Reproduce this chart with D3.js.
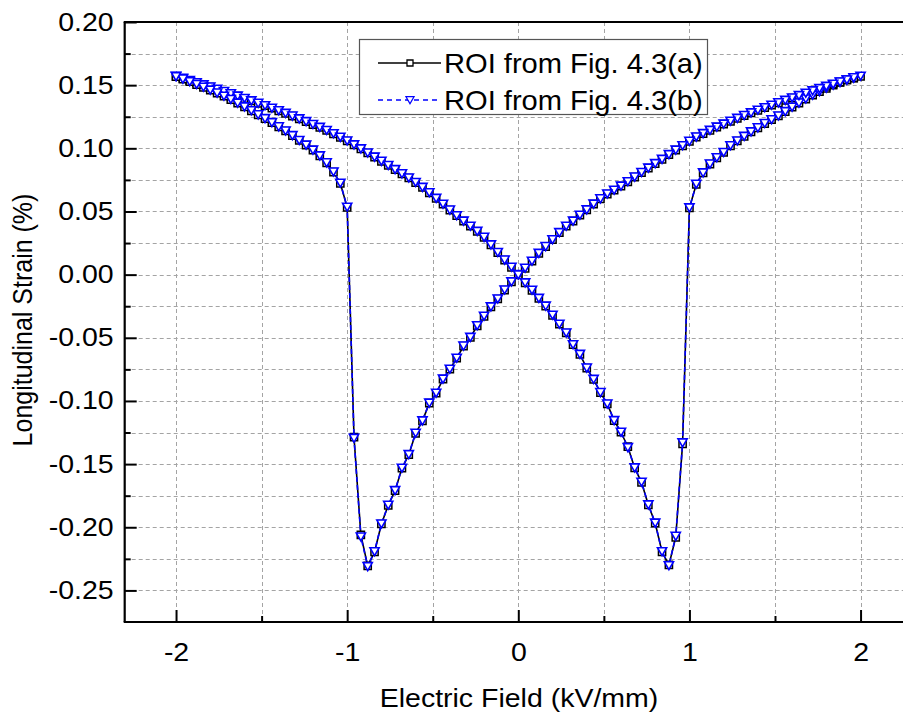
<!DOCTYPE html>
<html>
<head>
<meta charset="utf-8">
<script src="https://cdn.jsdelivr.net/npm/d3@7"></script>
<style>
  html, body { margin: 0; padding: 0; background: #fff; }
  svg { display: block; }
</style>
</head>
<body>
<svg id="chart" width="903" height="713"></svg>
<script>
// ---------------- DATA ----------------
// Electric field (kV/mm), loop: -2 -> +2 -> -2
const fieldValues = [
  -2,-1.96,-1.92,-1.88,-1.84,-1.8,-1.76,-1.72,-1.68,-1.64,
  -1.6,-1.56,-1.52,-1.48,-1.44,-1.4,-1.36,-1.32,-1.28,-1.24,
  -1.2,-1.16,-1.12,-1.08,-1.04,-1,-0.96,-0.92,-0.88,-0.84,
  -0.8,-0.76,-0.72,-0.68,-0.64,-0.6,-0.56,-0.52,-0.48,-0.44,
  -0.4,-0.36,-0.32,-0.28,-0.24,-0.2,-0.16,-0.12,-0.08,-0.04,
  0,0.04,0.08,0.12,0.16,0.2,0.24,0.28,0.32,0.36,
  0.4,0.44,0.48,0.52,0.56,0.6,0.64,0.68,0.72,0.76,
  0.8,0.84,0.88,0.92,0.96,1,1.04,1.08,1.12,1.16,
  1.2,1.24,1.28,1.32,1.36,1.4,1.44,1.48,1.52,1.56,
  1.6,1.64,1.68,1.72,1.76,1.8,1.84,1.88,1.92,1.96,
  2,
  1.96,1.92,1.88,1.84,1.8,1.76,1.72,1.68,1.64,1.6,
  1.56,1.52,1.48,1.44,1.4,1.36,1.32,1.28,1.24,1.2,
  1.16,1.12,1.08,1.04,1,0.96,0.92,0.88,0.84,0.8,
  0.76,0.72,0.68,0.64,0.6,0.56,0.52,0.48,0.44,0.4,
  0.36,0.32,0.28,0.24,0.2,0.16,0.12,0.08,0.04,0,
  -0.04,-0.08,-0.12,-0.16,-0.2,-0.24,-0.28,-0.32,-0.36,-0.4,
  -0.44,-0.48,-0.52,-0.56,-0.6,-0.64,-0.68,-0.72,-0.76,-0.8,
  -0.84,-0.88,-0.92,-0.96,-1,-1.04,-1.08,-1.12,-1.16,-1.2,
  -1.24,-1.28,-1.32,-1.36,-1.4,-1.44,-1.48,-1.52,-1.56,-1.6,
  -1.64,-1.68,-1.72,-1.76,-1.8,-1.84,-1.88,-1.92,-1.96,-2
];

// Longitudinal strain (%) - ROI from Fig. 4.3(a)
const strainA = [
  0.1570,0.1553,0.1536,0.1519,0.1502,0.1485,0.1467,0.1449,0.1431,0.1413,
  0.1394,0.1375,0.1356,0.1337,0.1317,0.1297,0.1276,0.1255,0.1233,0.1211,
  0.1188,0.1165,0.1141,0.1115,0.1087,0.1058,0.1027,0.0995,0.0963,0.0930,
  0.0897,0.0864,0.0831,0.0798,0.0765,0.0729,0.0690,0.0648,0.0603,0.0557,
  0.0511,0.0466,0.0423,0.0383,0.0342,0.0295,0.0235,0.0175,0.0115,0.0058,
  0.0000,-0.0066,-0.0124,-0.0188,-0.0250,-0.0322,-0.0393,-0.0462,-0.0555,-0.0632,
  -0.0740,-0.0830,-0.0934,-0.1024,-0.1156,-0.1248,-0.1362,-0.1530,-0.1644,-0.1823,
  -0.1968,-0.2195,-0.2298,-0.2080,-0.1340,0.0528,0.0715,0.0805,0.0875,0.0925,
  0.0967,0.1020,0.1058,0.1094,0.1130,0.1162,0.1196,0.1226,0.1256,0.1290,
  0.1325,0.1358,0.1390,0.1420,0.1448,0.1475,0.1500,0.1522,0.1541,0.1556,
  0.1570,
  0.1558,0.1541,0.1524,0.1507,0.1490,0.1472,0.1454,0.1436,0.1417,0.1398,
  0.1379,0.1360,0.1341,0.1321,0.1301,0.1280,0.1259,0.1237,0.1214,0.1191,
  0.1167,0.1142,0.1116,0.1089,0.1055,0.1020,0.0985,0.0950,0.0912,0.0878,
  0.0843,0.0808,0.0772,0.0735,0.0700,0.0668,0.0638,0.0600,0.0558,0.0512,
  0.0470,0.0423,0.0383,0.0332,0.0276,0.0222,0.0168,0.0106,0.0050,-0.0003,
  -0.0058,-0.0122,-0.0193,-0.0256,-0.0330,-0.0405,-0.0497,-0.0566,-0.0662,-0.0749,
  -0.0828,-0.0939,-0.1018,-0.1158,-0.1256,-0.1425,-0.1533,-0.1710,-0.1826,-0.1974,
  -0.2195,-0.2306,-0.2060,-0.1287,0.0533,0.0723,0.0812,0.0885,0.0940,0.0985,
  0.1025,0.1062,0.1100,0.1137,0.1170,0.1203,0.1235,0.1265,0.1297,0.1328,
  0.1357,0.1386,0.1412,0.1437,0.1460,0.1483,0.1505,0.1527,0.1548,0.1567
];

// Longitudinal strain (%) - ROI from Fig. 4.3(b)
const strainB = [
  0.1572,0.1556,0.1538,0.1521,0.1504,0.1487,0.1469,0.1451,0.1433,0.1415,
  0.1396,0.1377,0.1358,0.1339,0.1319,0.1299,0.1278,0.1257,0.1235,0.1213,
  0.1190,0.1167,0.1143,0.1117,0.1089,0.1060,0.1029,0.0997,0.0965,0.0932,
  0.0899,0.0866,0.0833,0.0800,0.0767,0.0731,0.0692,0.0650,0.0605,0.0559,
  0.0513,0.0468,0.0425,0.0385,0.0344,0.0297,0.0237,0.0177,0.0117,0.0060,
  0.0002,-0.0064,-0.0122,-0.0186,-0.0248,-0.0320,-0.0391,-0.0460,-0.0553,-0.0630,
  -0.0738,-0.0828,-0.0932,-0.1022,-0.1154,-0.1246,-0.1368,-0.1528,-0.1642,-0.1821,
  -0.1966,-0.2192,-0.2303,-0.2070,-0.1330,0.0530,0.0717,0.0807,0.0877,0.0927,
  0.0969,0.1022,0.1060,0.1096,0.1132,0.1164,0.1198,0.1228,0.1258,0.1292,
  0.1327,0.1360,0.1392,0.1422,0.1450,0.1477,0.1502,0.1524,0.1543,0.1558,
  0.1572,
  0.1560,0.1543,0.1526,0.1509,0.1492,0.1474,0.1456,0.1438,0.1419,0.1400,
  0.1381,0.1362,0.1343,0.1323,0.1303,0.1282,0.1261,0.1239,0.1216,0.1193,
  0.1169,0.1144,0.1118,0.1091,0.1057,0.1022,0.0987,0.0952,0.0914,0.0880,
  0.0845,0.0810,0.0774,0.0737,0.0702,0.0670,0.0640,0.0602,0.0560,0.0514,
  0.0472,0.0425,0.0385,0.0334,0.0278,0.0224,0.0170,0.0108,0.0052,-0.0001,
  -0.0056,-0.0120,-0.0191,-0.0254,-0.0328,-0.0403,-0.0495,-0.0564,-0.0660,-0.0747,
  -0.0826,-0.0937,-0.1016,-0.1156,-0.1254,-0.1423,-0.1531,-0.1708,-0.1824,-0.1972,
  -0.2192,-0.2310,-0.2075,-0.1295,0.0535,0.0725,0.0814,0.0887,0.0942,0.0987,
  0.1027,0.1064,0.1102,0.1139,0.1172,0.1205,0.1237,0.1267,0.1299,0.1330,
  0.1359,0.1388,0.1414,0.1439,0.1462,0.1485,0.1507,0.1529,0.1550,0.1569
];

const seriesNames = ["ROI from Fig. 4.3(a)", "ROI from Fig. 4.3(b)"];
const xTickValues = [-2, -1, 0, 1, 2];
const xMinorTickValues = [-1.5, -0.5, 0.5, 1.5];
const yTickValues = [0.20, 0.15, 0.10, 0.05, 0.00, -0.05, -0.10, -0.15, -0.20, -0.25];
const yMinorTickValues = [0.175, 0.125, 0.075, 0.025, -0.025, -0.075, -0.125, -0.175, -0.225];
const xTitle = "Electric Field (kV/mm)";
const yTitle = "Longitudinal Strain (%)";

// ---------------- LAYOUT ----------------
const W = 903, H = 713;
const plotLeft = 124.7, plotTop = 22, plotBottom = 622;
const FONT = '"Liberation Sans", Arial, Helvetica, sans-serif';
const SX = 1.14; // horizontal stretch of the text in the reference

const svg = d3.select("#chart");
svg.append("rect").attr("width", W).attr("height", H).attr("fill", "#fff");

const x = d3.scaleLinear().domain([-2.3, 2.3]).range([plotLeft, 911.9]);
const y = d3.scaleLinear().domain([-0.275, 0.2]).range([plotBottom, plotTop]);

// ---------------- GRID ----------------
const grid = svg.append("g")
  .attr("stroke", "#a4a4a4").attr("stroke-width", 1).attr("stroke-dasharray", "4,3").attr("fill", "none");
grid.selectAll("line.h")
  .data(yTickValues.concat(yMinorTickValues).filter(v => v < 0.2))
  .join("line").attr("class", "h")
  .attr("x1", plotLeft).attr("x2", W)
  .attr("y1", d => Math.round(y(d)) + 0.5).attr("y2", d => Math.round(y(d)) + 0.5);
grid.selectAll("line.v")
  .data(xTickValues.concat(xMinorTickValues))
  .join("line").attr("class", "v")
  .attr("y1", plotTop).attr("y2", plotBottom)
  .attr("x1", d => Math.round(x(d)) + 0.5).attr("x2", d => Math.round(x(d)) + 0.5);

// ---------------- AXES ----------------
const yAxis = d3.axisLeft(y).tickValues(yTickValues).tickSizeInner(-12).tickSizeOuter(0)
  .tickPadding(11).tickFormat(d => d.toFixed(2));
const gy = svg.append("g").attr("transform", `translate(${plotLeft},0)`).call(yAxis);
gy.select(".domain").remove();
gy.selectAll(".tick line").attr("stroke", "#000").attr("stroke-width", 2);
gy.selectAll(".tick text")
  .attr("font-family", FONT).attr("font-size", 25).attr("fill", "#000")
  .attr("x", -11 / SX).attr("transform", `scale(${SX},1)`);

const yMinor = d3.axisLeft(y).tickValues(yMinorTickValues).tickSizeInner(-6).tickSizeOuter(0).tickFormat("");
const gym = svg.append("g").attr("transform", `translate(${plotLeft},0)`).call(yMinor);
gym.select(".domain").remove();
gym.selectAll(".tick line").attr("stroke", "#000").attr("stroke-width", 2);

const xAxis = d3.axisBottom(x).tickValues(xTickValues).tickSizeInner(-12).tickSizeOuter(0)
  .tickPadding(21).tickFormat(d => String(d));
const gx = svg.append("g").attr("transform", `translate(0,${plotBottom})`).call(xAxis);
gx.select(".domain").remove();
gx.selectAll(".tick line").attr("stroke", "#000").attr("stroke-width", 2);
gx.selectAll(".tick text")
  .attr("font-family", FONT).attr("font-size", 25).attr("fill", "#000")
  .attr("transform", `scale(${SX},1)`);

const xMinor = d3.axisBottom(x).tickValues(xMinorTickValues).tickSizeInner(-6).tickSizeOuter(0).tickFormat("");
const gxm = svg.append("g").attr("transform", `translate(0,${plotBottom})`).call(xMinor);
gxm.select(".domain").remove();
gxm.selectAll(".tick line").attr("stroke", "#000").attr("stroke-width", 2);

// frame (top, left, bottom)
const frame = svg.append("g").attr("stroke", "#000").attr("stroke-width", 2.2).attr("fill", "none");
frame.append("line").attr("x1", plotLeft - 1).attr("x2", W).attr("y1", plotTop).attr("y2", plotTop);
frame.append("line").attr("x1", plotLeft).attr("x2", plotLeft).attr("y1", plotTop).attr("y2", plotBottom);
frame.append("line").attr("x1", plotLeft - 1).attr("x2", W).attr("y1", plotBottom).attr("y2", plotBottom);

// ---------------- TITLES ----------------
function stretchedText(px, py, txt, size, anchor, rotate) {
  const g = svg.append("g")
    .attr("transform", `translate(${px},${py}) scale(${SX},1)` + (rotate ? ` rotate(${rotate})` : ""));
  g.append("text").attr("text-anchor", anchor).attr("font-family", FONT)
    .attr("font-size", size).attr("fill", "#000").text(txt);
  return g;
}
stretchedText(519, 707, xTitle, 25, "middle", 0);
stretchedText(32, 320, yTitle, 25, "middle", -90);

// ---------------- SERIES ----------------
const idx = d3.range(fieldValues.length);
const ptsA = idx.map(i => [fieldValues[i], strainA[i]]);
const ptsB = idx.map(i => [fieldValues[i], strainB[i]]);
const line = d3.line().x(d => x(d[0])).y(d => y(d[1]));

const squarePath = "M-3.6,-3.6H3.6V3.6H-3.6Z";
const triPath = "M-4.6,-3.8L4.6,-3.8L0,4.2Z";

svg.append("path").datum(ptsA).attr("d", line)
  .attr("fill", "none").attr("stroke", "#000").attr("stroke-width", 1.6);
svg.append("g").selectAll("path").data(ptsA).join("path")
  .attr("d", squarePath)
  .attr("transform", d => `translate(${x(d[0])},${y(d[1])})`)
  .attr("fill", "#fff").attr("stroke", "#000").attr("stroke-width", 1.5);

svg.append("path").datum(ptsB).attr("d", line)
  .attr("fill", "none").attr("stroke", "#0000ff").attr("stroke-width", 1.6)
  .attr("stroke-dasharray", "5,3");
svg.append("g").selectAll("path").data(ptsB).join("path")
  .attr("d", triPath)
  .attr("transform", d => `translate(${x(d[0])},${y(d[1])})`)
  .attr("fill", "#fff").attr("stroke", "#0000ff").attr("stroke-width", 1.6);

// ---------------- LEGEND ----------------
const lg = svg.append("g");
lg.append("rect").attr("x", 359.5).attr("y", 39.5).attr("width", 348).attr("height", 75)
  .attr("fill", "#fff").attr("stroke", "#555").attr("stroke-width", 1.2);
const rows = [
  { name: seriesNames[0], cy: 63, color: "#000", dash: null, mark: "M-3,-3H3V3H-3Z" },
  { name: seriesNames[1], cy: 100, color: "#0000ff", dash: "5,4", mark: "M-4,-3.3L4,-3.3L0,3.7Z" }
];
rows.forEach(r => {
  lg.append("line").attr("x1", 378).attr("x2", 441).attr("y1", r.cy).attr("y2", r.cy)
    .attr("stroke", r.color).attr("stroke-width", 1.4)
    .attr("stroke-dasharray", r.dash);
  lg.append("path").attr("d", r.mark).attr("transform", `translate(410,${r.cy})`)
    .attr("fill", "#fff").attr("stroke", r.color).attr("stroke-width", 1.3);
  const g = lg.append("g").attr("transform", `translate(444,${r.cy + 10}) scale(1.04,1)`);
  g.append("text").attr("font-family", FONT).attr("font-size", 28).attr("fill", "#000").text(r.name);
});
</script>
</body>
</html>
